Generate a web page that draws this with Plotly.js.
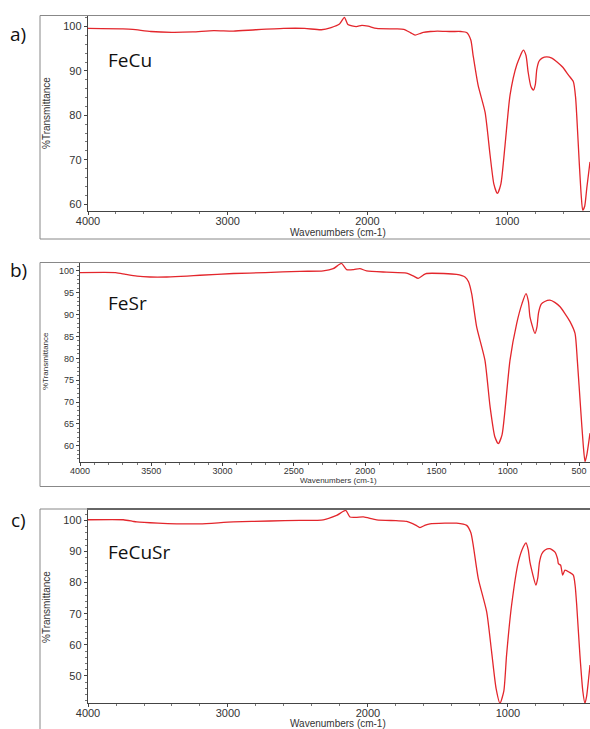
<!DOCTYPE html>
<html>
<head>
<meta charset="utf-8">
<script src="https://cdn.plot.ly/plotly-3.0.1.min.js"></script>
<style>html,body{margin:0;padding:0;background:#fff;}#chart{width:590px;height:729px;}</style>
</head>
<body>
<div id="chart"></div>
<script>
// Panel a) FeCu
const waveA = [4000,3750,3680,3550,3400,3250,3100,2960,2800,2600,2450,2330,2260,2200,2165,2140,2080,2040,1995,1935,1800,1740,1690,1659,1620,1600,1550,1500,1400,1330,1290,1260,1244,1208,1158,1122,1095,1070,1045,1015,979,931,884,865,850,830,812,798,788,772,750,717,680,645,600,562,526,510,502,483,470,459,445,430,407];
const transA = [99.6,99.5,99.4,98.9,98.7,98.8,99.1,99.0,99.3,99.6,99.6,99.3,99.8,100.6,102.1,100.5,100.0,100.3,100.1,99.6,99.5,99.4,98.6,98.1,98.5,98.7,98.9,99.0,98.9,98.9,98.7,97.0,93.6,86.8,80.7,71.0,64.5,62.4,64.5,73.3,84.6,91.4,94.7,93.5,89.8,86.5,85.7,87.0,90.3,92.2,92.9,93.2,92.9,92.1,90.8,89.1,87.6,84.0,80.0,68.8,62.0,58.6,59.5,63.6,69.5];
// Panel b) FeSr
const waveB = [4000,3750,3680,3600,3509,3392,3250,3158,2924,2700,2457,2294,2224,2166,2130,2080,2037,1990,1850,1710,1660,1628,1590,1570,1450,1359,1300,1275,1253,1218,1160,1124,1090,1066,1040,1019,984,937,900,872,855,844,809,795,784,765,740,704,670,633,600,563,528,512,488,470,458,445,423];
const transB = [99.6,99.6,99.2,98.8,98.6,98.6,98.8,99.0,99.4,99.6,99.9,100.0,100.5,101.7,100.3,100.3,100.5,100.0,99.7,99.5,98.8,98.3,99.1,99.4,99.4,99.2,98.6,97.5,94.8,87.2,79.6,69.0,62.0,60.5,62.5,68.2,79.6,88.0,92.5,94.8,93.0,89.5,85.7,87.2,90.4,92.4,93.0,93.3,92.8,91.8,90.3,88.4,85.7,79.6,68.2,60.0,56.4,58.0,62.9];
// Panel c) FeCuSr
const waveC = [4000,3748,3680,3652,3500,3366,3200,2962,2700,2486,2319,2224,2159,2129,2080,2033,1938,1800,1724,1660,1629,1590,1557,1450,1367,1295,1265,1248,1212,1152,1117,1085,1057,1030,1010,974,926,890,871,855,843,800,787,775,758,735,700,664,645,640,624,609,593,560,533,520,509,486,465,450,438,426,414];
const transC = [100.2,100.2,99.7,99.5,99.1,98.9,98.9,99.5,99.8,100.0,100.2,101.6,103.2,101.1,101.0,101.1,100.2,99.9,99.7,98.5,97.7,98.5,98.9,99.1,99.1,98.4,96.0,92.0,81.3,70.6,57.8,46.0,41.2,45.0,56.7,72.8,86.6,91.5,92.8,90.5,86.6,79.2,81.5,86.5,89.3,90.5,90.9,89.8,87.5,86.1,85.6,82.4,84.0,83.3,82.4,79.0,72.8,56.7,45.0,41.2,43.5,48.2,53.5];

const sampleNames = ["FeCu","FeSr","FeCuSr"];
const panelLetters = ["a)","b)","c)"];
const xTitle = "Wavenumbers (cm-1)";
const yTitle = "%Transmittance";

const W = 590, H = 729;
const px = v => v / W;
const py = v => 1 - v / H;
const red = "#e3262c";
const tickCol = "#333";

function trace(x, y, xa, ya) {
  return {x: x, y: y, xaxis: xa, yaxis: ya, type: "scatter", mode: "lines",
    line: {color: red, width: 1.3, shape: "spline", smoothing: 0.6}, hoverinfo: "skip", showlegend: false};
}
const data = [
  trace(waveA, transA, "x", "y"),
  trace(waveB, transB, "x2", "y2"),
  trace(waveC, transC, "x3", "y3")
];

function xaxis(dom, rng, dtick, minorD, fs, anchor) {
  return {domain: dom, range: rng, anchor: anchor, showline: true, linecolor: "#444", linewidth: 1.2,
    mirror: true, ticks: "outside", ticklen: 3, tickcolor: "#444", dtick: dtick, tick0: 0,
    ticklabelstandoff: -3,
    minor: {dtick: minorD, ticks: "outside", ticklen: 2, tickcolor: "#777"},
    showgrid: false, zeroline: false, tickfont: {family: "Liberation Sans, Arial", size: fs, color: tickCol}};
}
function yaxis(dom, rng, dtick, minorD, fs, anchor) {
  return {domain: dom, range: rng, anchor: anchor, showline: true, linecolor: "#444", linewidth: 1.2,
    ticks: "outside", ticklen: 3, tickcolor: "#444", dtick: dtick, tick0: 0,
    minor: {dtick: minorD, ticks: "outside", ticklen: 2, tickcolor: "#777"},
    showgrid: false, zeroline: false, tickfont: {family: "Liberation Sans, Arial", size: fs, color: tickCol}};
}

const layout = {
  width: W, height: H, margin: {l: 0, r: 0, t: 0, b: 0},
  paper_bgcolor: "#fff", plot_bgcolor: "#fff", showlegend: false,
  xaxis: xaxis([px(88), 1], [4000, 407], 1000, 200, 11, "y"),
  yaxis: yaxis([py(210.7), py(16)], [58.5, 102.4], 10, 2, 11, "x"),
  xaxis2: xaxis([px(80), 1], [4000, 423], 500, 100, 9, "y2"),
  yaxis2: yaxis([py(462), py(263)], [56.3, 101.8], 5, 1, 9, "x2"),
  xaxis3: xaxis([px(88), 1], [4000, 414], 1000, 200, 11, "y3"),
  yaxis3: yaxis([py(703), py(509.5)], [41.3, 103.5], 10, 2, 11, "x3"),
  shapes: [
    {type: "rect", xref: "paper", yref: "paper", x0: px(40), x1: 1.01, y0: py(239), y1: py(15.5), line: {color: "#888", width: 1}},
    {type: "rect", xref: "paper", yref: "paper", x0: px(40), x1: 1.01, y0: py(486.5), y1: py(262.5), line: {color: "#888", width: 1}},
    {type: "rect", xref: "paper", yref: "paper", x0: px(40), x1: 1.01, y0: py(740), y1: py(509), line: {color: "#888", width: 1}}
  ],
  annotations: []
};

const letterY = [34, 270, 520];
const nameY = [60, 303, 552];
const yTitleY = [113, 361, 607];
const xTitleY = [232.5, 480.5, 723.5];
const axFont = [10, 8, 10];
for (let i = 0; i < 3; i++) {
  layout.annotations.push({xref: "paper", yref: "paper", x: px(18), y: py(letterY[i]), text: panelLetters[i],
    showarrow: false, xanchor: "center", yanchor: "middle", font: {family: "Open Sans, Liberation Sans", size: 19, color: "#111"}});
  layout.annotations.push({xref: "paper", yref: "paper", x: px(106), y: py(nameY[i]), text: sampleNames[i],
    showarrow: false, xanchor: "left", yanchor: "middle", font: {family: "Open Sans, Liberation Sans", size: 19, color: "#111"}});
  layout.annotations.push({xref: "paper", yref: "paper", x: px(46), y: py(yTitleY[i]), text: yTitle, textangle: -90,
    showarrow: false, xanchor: "center", yanchor: "middle", font: {family: "Liberation Sans, Arial", size: axFont[i], color: tickCol}});
  layout.annotations.push({xref: "paper", yref: "paper", x: px(338), y: py(xTitleY[i]), text: xTitle,
    showarrow: false, xanchor: "center", yanchor: "middle", font: {family: "Liberation Sans, Arial", size: axFont[i], color: tickCol}});
}

Plotly.newPlot("chart", data, layout, {staticPlot: true, displayModeBar: false});
</script>
</body>
</html>
